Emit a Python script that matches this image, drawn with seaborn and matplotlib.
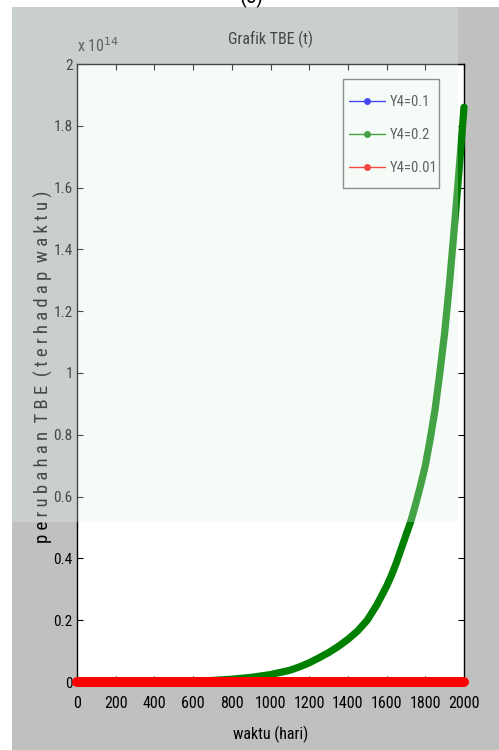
import matplotlib
matplotlib.use("Agg")
import matplotlib.pyplot as plt
from matplotlib.lines import Line2D
from matplotlib.patches import Rectangle
import seaborn as sns
import pandas as pd

# time axis (days) and TBE values for each Y4 setting
waktu = [0, 200, 400, 600, 700, 800, 900, 1000, 1100, 1150, 1200, 1250, 1300,
         1350, 1400, 1450, 1500, 1550, 1600, 1625, 1650, 1675, 1700, 1725,
         1750, 1775, 1800, 1825, 1850, 1875, 1900, 1925, 1950, 1975, 2000]
tbe_y4_01 = [0] * len(waktu)
tbe_y4_02 = [0.0, 0.0, 0.0005e14, 0.002e14, 0.005e14, 0.009e14, 0.015e14,
             0.024e14, 0.038e14, 0.049e14, 0.062e14, 0.078e14, 0.095e14,
             0.115e14, 0.138e14, 0.165e14, 0.20e14, 0.25e14, 0.31e14,
             0.345e14, 0.385e14, 0.43e14, 0.475e14, 0.52e14, 0.575e14,
             0.635e14, 0.70e14, 0.785e14, 0.88e14, 1.00e14, 1.13e14,
             1.29e14, 1.47e14, 1.66e14, 1.86e14]
tbe_y4_001 = [0] * len(waktu)

series_labels = ["Y4=0.1", "Y4=0.2", "Y4=0.01"]
series_colors = ["#0000ff", "#008000", "#ff0000"]
series_widths = [5.0, 5.2, 7.2]

x_ticks = list(range(0, 2001, 200))
y_ticks = [i * 0.2e14 for i in range(11)]
y_tick_labels = ["0", "0.2", "0.4", "0.6", "0.8", "1", "1.2", "1.4", "1.6", "1.8", "2"]

sns.set_theme(style="white")
plt.rcParams["font.family"] = ["Roboto Condensed", "Liberation Sans", "DejaVu Sans"]

FS = 11.5
W, H = 499, 750

fig = plt.figure(figsize=(W / 100, H / 100), dpi=100, facecolor="white")
# grey MATLAB-style figure panel
fig.add_artist(Rectangle((12 / W, 0), 1 - 12 / W, 1 - 7 / H,
                         transform=fig.transFigure, facecolor="#c0c0c0",
                         edgecolor="none", zorder=-5))
fig.text(252 / W, 1.0 + 3 / H, "(c)", ha="center", va="center", fontsize=16, color="black")

ax = fig.add_axes([77 / W, 1 - 682 / H, 387 / W, 618 / H])
ax.set_facecolor("white")

df = pd.DataFrame({
    "waktu": waktu * 3,
    "tbe": tbe_y4_01 + tbe_y4_02 + tbe_y4_001,
    "seri": sum([[s] * len(waktu) for s in series_labels], []),
})
for lab, col, lw in zip(series_labels, series_colors, series_widths):
    sub = df[df["seri"] == lab]
    sns.lineplot(data=sub, x="waktu", y="tbe", ax=ax, color=col, linewidth=lw,
                 solid_capstyle="round", solid_joinstyle="round",
                 clip_on=False, zorder=4, legend=False)

ax.set_xlim(0, 2000)
ax.set_ylim(0, 2e14)
ax.set_xticks(x_ticks)
ax.set_xticklabels([str(v) for v in x_ticks])
ax.set_yticks(y_ticks)
ax.set_yticklabels(y_tick_labels)
ax.tick_params(axis="both", which="both", direction="in", length=4, width=0.8,
               top=True, right=True, bottom=True, left=True,
               labelsize=FS, colors="black")
ax.tick_params(axis="x", pad=10)
ax.tick_params(axis="y", pad=3, labelsize=11)
for sp in ax.spines.values():
    sp.set_color("black")
    sp.set_linewidth(1.0)
    sp.set_visible(True)

ax.set_xlabel("waktu (hari)", fontsize=FS, color="black", labelpad=11)
ax.set_ylabel("p e r u b a h a n  T B E  ( t e r h a d a p  w a k t u )",
              fontsize=13.5, color="black")
ax.yaxis.set_label_coords(-0.062, 0.51)
ax.set_title("Grafik TBE (t)", fontsize=FS, color="black", pad=14)
fig.text(77 / W, 1 - 52 / H, r"x 10$^{14}$", fontsize=FS, ha="left", va="baseline")

# legend frame and entries
ax.add_patch(Rectangle((343 / W, 1 - 188 / H), 96 / W, 109 / H, transform=fig.transFigure,
                       facecolor="white", edgecolor="#666666", linewidth=1.0,
                       zorder=5, clip_on=False))
handles = [Line2D([0], [0], color=c, lw=1.0, marker="o", markersize=4) for c in series_colors]
leg = ax.legend(handles, series_labels, loc="upper left",
                bbox_to_anchor=(349 / W, 1 - 95 / H), bbox_transform=fig.transFigure,
                fontsize=10.5, frameon=False, handlelength=2.5,
                handletextpad=0.3, labelspacing=1.3, borderpad=0,
                borderaxespad=0)
leg.set_zorder(6)

# faint tint across the upper-left of the figure
fig.add_artist(Rectangle((12 / W, 1 - 522 / H), (458 - 12) / W, (522 - 7) / H,
                         transform=fig.transFigure, facecolor="#dff2e4",
                         edgecolor="none", alpha=0.3, zorder=20))

fig.savefig("out.png", dpi=100, facecolor=fig.get_facecolor())
